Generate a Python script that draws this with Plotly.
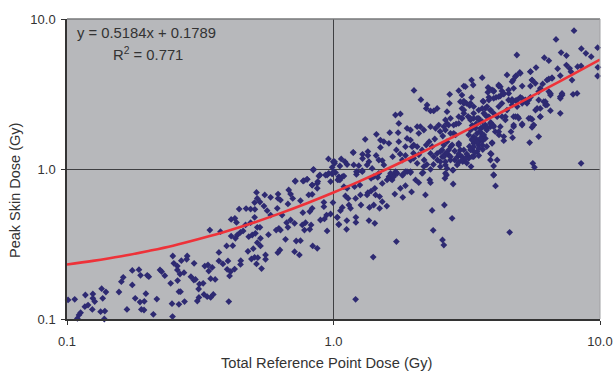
import plotly.graph_objects as go

# (log10 total reference point dose, log10 peak skin dose)
points_low_dose = [
(-.996,-.873),(-.971,-.869),(-.961,-.996),(-.955,-.973),(-.949,-.958),(-.931,-.84),(-.933,-.918),(-.921,-.907),(-.905,-.936),(-.903,-.833),
(-.903,-.862),(-.896,-.884),(-.87,-.798),(-.854,-.82),(-.866,-.862),(-.874,-.951),(-.858,-.947),(-.86,-1.0),(-.805,-.82),(-.796,-.751),
(-.789,-.722),(-.755,-.676),(-.73,-.671),(-.724,-.709),(-.755,-.773),(-.744,-.862),(-.726,-.887),(-.71,-.882),(-.704,-.831),(-.775,-.936),
(-.721,-.936),(-.711,-.94),(-.676,-.969),(-.663,-.867),(-.699,-.709),(-.693,-.718),(-.651,-.673),(-.645,-.684),(-.633,-.711),(-.611,-.762),
(-.603,-.58),(-.599,-.629),(-.586,-.647),(-.586,-.673),(-.571,-.611),(-.549,-.58),(-.551,-.602),(-.523,-.629),(-.576,-.7),(-.561,-.691),
(-.585,-.744),(-.58,-.818),(-.574,-.818),(-.606,-.898),(-.58,-.902),(-.559,-.884),(-.604,-.984),(-.535,-.718),(-.524,-.74),(-.518,-.736),
(-.503,-.767),(-.489,-.762),(-.506,-.8),(-.505,-.856),(-.511,-.88),(-.486,-.836),(-.474,-.851),(-.461,-.856),(-.451,-.836),(-.393,-.884),
(-.483,-.647),(-.471,-.64),(-.455,-.656),(-.468,-.68),(-.461,-.731),(-.444,-.736),(-.39,-.713),(-.43,-.556),(-.43,-.613),(-.415,-.633),
(-.396,-.613),(-.399,-.669),(-.386,-.684),(-.371,-.667),(-.349,-.636),(-.348,-.611),(-.401,-.513),(-.378,-.511),(-.464,-.407),(-.424,-.418),
]
points_mid_low_dose = [
(-.321,-.549),(-.301,-.531),(-.308,-.6),(-.296,-.589),(-.284,-.591),(-.289,-.633),(-.27,-.664),(-.255,-.573),(-.255,-.602),(-.274,-.513),
(-.286,-.491),(-.274,-.462),(-.384,-.447),(-.368,-.462),(-.361,-.44),(-.349,-.422),(-.339,-.413),(-.318,-.451),(-.305,-.44),(-.293,-.429),
(-.244,-.438),(-.209,-.558),(-.201,-.54),(-.146,-.551),(-.128,-.573),(-.14,-.48),(-.124,-.478),(-.18,-.469),(-.205,-.396),(-.215,-.407),
(-.199,-.407),(-.171,-.389),(-.176,-.358),(-.161,-.34),(-.146,-.362),(-.193,-.307),(-.171,-.233),(-.211,-.262),(-.236,-.307),(-.249,-.278),
(-.261,-.247),(-.286,-.389),(-.276,-.389),(-.311,-.358),(-.33,-.373),(-.296,-.322),(-.384,-.336),(-.37,-.329),(-.364,-.356),(-.354,-.267),
(-.328,-.264),(-.311,-.267),(-.295,-.269),(-.296,-.224),(-.289,-.156),(-.286,-.196),(-.276,-.22),(-.258,-.173),(-.236,-.189),(-.208,-.167),
(-.208,-.196),(-.199,-.207),(-.168,-.14),(-.161,-.167),(-.153,-.196),(-.143,-.08),(-.114,-.08),(-.099,-.069),(-.124,-.211),(-.093,-.173),
(-.08,-.169),(-.036,-.222),(-.036,-.251),(-.002,-.224),(-.08,-.262),(-.089,-.284),(-.115,-.291),(-.105,-.358),(-.117,-.373),(-.084,-.373),
(-.109,-.407),(-.089,-.402),(-.024,-.413),(-.049,-.34),(-.034,-.333),(-.026,-.307),(-.011,-.3),(.014,-.322),(.02,-.369),(-.078,-.513),
(-.061,-.529),(-.08,-.107),(-.061,-.096),(-.055,-.047),(-.024,-.04),(-.005,-.033),(.0075,-.024),(-.076,-.007),(.02,-.069),
(-.019,.067),(-.001,.049),(.004,.038),(-.005,.011),(-.018,-.029),(-.005,-.029),(-.03,-.04),(.001,-.018),(.02,-.051),
(-.075,-.002),(-.051,-.04),(-.144,-.082),(-.111,-.078),(-.099,-.069),(-.08,-.107),(-.059,-.084),(-.061,-.129),(-.011,-.084),
]
points_mid_dose = [
(.016,-.073),(.033,-.051),(.024,-.073),(.086,-.018),(.108,-.018),(.086,-.036),(.141,-.062),(.166,-.056),(.183,-.096),(.201,-.073),
(.214,-.062),(.226,-.04),(.233,-.018),(.22,-.073),(.208,-.051),(.239,-.029),(.26,-.04),(.276,-.018),(.289,-.024),(.308,-.073),
(.32,-.091),(.336,-.024),(.361,-.073),(.364,-.091),(.418,-.062),(.424,-.04),(.449,-.007),(.449,-.1),(.601,-.04),(.608,-.113),
(.039,-.118),(.051,-.129),(.079,-.118),(.099,-.107),(.045,-.18),(.055,-.196),(.083,-.196),(.101,-.173),(.126,-.173),(.129,-.158),
(.141,-.147),(.155,-.129),(.158,-.173),(.173,-.184),(.183,-.218),(.2,-.247),(.173,-.262),(.151,-.24),(.135,-.256),(.103,-.24),
(.058,-.24),(.064,-.262),(.033,-.256),(.026,-.278),(.23,-.167),(.251,-.129),(.27,-.111),(.26,-.189),(.293,-.153),(.345,-.173),
(.416,-.24),(.37,-.276),(.445,-.329),(.374,-.409),(.409,-.473),(.414,-.507),(.661,-.422),(.236,-.484),(.149,-.587),(.083,-.869),
(.014,-.322),(.02,-.371),(.05,-.344),(.049,-.402),(.084,-.322),(.084,-.356),(.133,-.344),(.155,-.362),
]
points_high_dose = [
(.9025,.922),(.835,.864),(.991,.809),(.93,.802),(.947,.771),(.967,.749),(.854,.776),(.874,.756),(.688,.76),(.791,.742),
(.808,.722),(.76,.676),(.739,.649),(.841,.669),(.874,.693),(.886,.671),(.916,.682),(.929,.687),(.992,.678),(.991,.62),
(.895,.593),(.891,.649),(.851,.622),(.82,.609),(.808,.6),(.785,.567),(.745,.593),(.739,.553),(.699,.644),(.685,.622),
(.674,.593),(.651,.627),(.708,.553),(.676,.538),(.657,.527),(.558,.609),(.518,.593),(.524,.56),(.489,.553),(.47,.522),
(.436,.498),(.435,.438),(.302,.524),(.328,.462),(.351,.427),(.348,.404),(.364,.387),(.389,.404),(.376,.387),(.482,.493),
(.489,.453),(.499,.438),(.518,.476),(.511,.422),(.58,.544),(.579,.511),(.601,.522),(.62,.553),(.632,.52),(.583,.478),
(.561,.453),(.61,.478),(.626,.487),(.639,.5),(.657,.46),(.67,.464),(.683,.456),(.701,.478),(.72,.46),(.726,.438),
(.739,.478),(.77,.516),(.808,.516),(.814,.493),(.77,.46),(.795,.449),(.801,.427),(.851,.471),(.858,.493),(.899,.498),
(.914,.504),(.851,.371),(.814,.389),(.776,.404),(.758,.393),(.776,.349),(.733,.338),(.745,.331),(.708,.3),(.751,.293),
(.745,.278),(.77,.216),(.736,.176),(.676,.349),(.691,.349),(.645,.349),(.676,.282),(.666,.249),(.672,.209),(.621,.227),
(.639,.189),(.595,.176),(.592,.1),(.614,.06),(.601,.02),(.748,.038),(.754,.011),(.929,.038),(.601,-.04),
(.67,.427),(.689,.416),(.708,.438),(.62,.416),(.632,.438),(.651,.393),
]
points_dense_band = [
(.576,.416),(.589,.393),(.601,.371),(.614,.349),(.576,.349),(.558,.316),(.545,.338),(.526,.338),(.514,.327),(.482,.404),
(.489,.371),(.482,.338),(.47,.349),(.439,.338),(.426,.382),(.42,.327),(.432,.293),(.414,.282),(.395,.293),(.383,.271),
(.364,.282),(.326,.282),(.314,.282),(.339,.26),(.32,.238),(.289,.26),(.276,.271),(.251,.367),(.2325,.36),(.245,.304),
(.211,.242),(.2425,.242),(.161,.231),(.119,.198),(.176,.193),(.189,.182),(.208,.171),(.176,.144),(.245,.182),(.276,.204),
(.289,.193),(.301,.16),(.27,.149),(.295,.149),(.314,.149),(.236,.127),(.074,.111),(.109,.098),(.129,.116),(.029,.067),
(.043,.049),(.004,.049),(.024,.02),(.076,.027),(.095,.022),(.133,.049),(.126,.027),(.089,-.018),(.108,-.011),(.183,.056),
(.189,.027),(.222,.082),(.258,.06),(.289,.06),(.301,.071),(.314,.038),(.34,.06),(.339,.016),(.364,.104),(.376,.082),
(.389,.104),(.401,.116),(.408,.082),(.42,.104),(.432,.093),(.439,.06),(.401,.049),(.42,.027),(.359,.182),(.348,.16),
(.3325,.127),(.426,.182),(.451,.238),(.47,.16),(.489,.127),(.482,.082),(.507,.082),(.526,.082),(.539,.116),(.52,.127),
(.526,.171),(.545,.182),(.526,.216),(.539,.238),(.558,.227),(.57,.204),(.551,.271),(.57,.293),(.589,.282),(.607,.249),
(.514,.26),(.533,.271),(.466,.082),(.464,.027),(.447,-.007),(.516,.016),(.589,.06),(.42,-.029),(.364,-.002),(.3325,-.029),
(.289,-.018),(.27,-.018),(.214,-.029),(.226,-.051),(.258,-.04),(.17,-.029),(.145,.004),(.151,-.051),(.039,-.047),(.401,.016),
(.426,.004),(.545,.393),(.526,.371),(.526,.416),(.564,.371),(.57,.404),
(.074,.109),(.109,.07),(.129,.09),(.051,.03),(.16,.09),(.17,.06),
(.44,.15),(.455,.12),(.47,.1),(.5,.1),(.51,.15),(.52,.2),(.535,.2),(.55,.25),(.56,.28),(.575,.26),
(.59,.31),(.6,.29),(.535,.3),(.52,.29),(.505,.35),(.46,.3),(.4,.25),(.41,.22),(.38,.2),(.37,.15),
(.455,.06),(.47,.045),(.485,.05),(.5,.04),(.53,.11),(.545,.09),(.56,.13),(.575,.15),(.545,.16),(.56,.19),
(.35,.03),(.375,.03),(.39,.06),(.25,.1),(.27,.09),(.3,.105),(.32,.095),
]
points_upper_cloud = [
(.5075,.227),(.52,.193),(.539,.182),(.551,.204),(.564,.227),(.576,.271),(.589,.304),(.601,.282),(.583,.349),(.57,.36),
(.558,.404),(.589,.393),(.551,.316),(.533,.293),(.52,.271),(.514,.338),(.539,.338),(.526,.149),(.514,.127),(.545,.138),
(.558,.16),(.5075,.071),(.52,.082),(.495,.071),(.4825,.06),(.414,.082),(.426,.104),(.439,.082),(.42,.049),(.4075,.127),
(.414,.16),(.4325,.127),(.445,.16),(.476,.127),(.47,.171),(.458,.227),(.439,.238),(.42,.26),(.426,.304),(.451,.293),
(.47,.304),(.482,.338),(.489,.393),(.476,.449),(.489,.438),(.514,.438),(.583,.46),(.601,.471),(.62,.482),(.639,.504),
(.6575,.504),(.67,.449),(.689,.46),(.7075,.471),(.72,.449),(.7325,.46),(.683,.349),(.695,.338),(.7075,.293),(.676,.293),
(.645,.327),(.6325,.349),(.626,.282),(.639,.216),(.62,.249),(.595,.171),(.589,.104),(.739,.338),(.751,.293),(.776,.349),
(.764,.404),(.789,.449),(.795,.427),(.814,.504),(.851,.482),(.8575,.504),(.801,.593),(.82,.604),(.745,.593),(.7575,.571),
(.776,.538),(.626,.549),(.62,.56),(.601,.516),(.583,.538),(.595,.527),(.5625,.449),(.67,.582),(.701,.638),(.6825,.616),
(.739,.649),(.495,.549),
]

trend_x = [.1,.125,.16,.2,.25,.32,.4,.5,.63,.8,1,1.25,1.6,2,2.5,3.2,4,5,6.3,8,10]
trend_y = [.231,.244,.262,.283,.308,.345,.386,.438,.506,.594,.697,.827,1.008,1.216,1.475,1.838,2.252,2.771,3.445,4.326,5.363]

tick_vals = [0.1, 1, 10]
tick_labels = ["0.1", "1.0", "10.0"]
x_title = "Total Reference Point Dose (Gy)"
y_title = "Peak Skin Dose (Gy)"
equation_text = "y = 0.5184x + 0.1789"
r2_text = "R<sup>2</sup> = 0.771"

all_points = points_low_dose + points_mid_low_dose + points_mid_dose + points_high_dose + points_dense_band + points_upper_cloud
xs = [10 ** p[0] for p in all_points]
ys = [10 ** p[1] for p in all_points]

FONT = "Liberation Sans, Arial, sans-serif"
INK = "#333333"
fig = go.Figure()
fig.add_trace(go.Scatter(x=xs, y=ys, mode="markers",
    marker=dict(symbol="diamond", size=5.2, color="#2e2a72", line=dict(width=0)), cliponaxis=False))
fig.add_trace(go.Scatter(x=trend_x, y=trend_y, mode="lines", line=dict(color="#ee3239", width=2.6, shape="spline")))

axis = dict(type="log", range=[-1, 1], automargin=False, tickmode="array", tickvals=tick_vals, ticktext=tick_labels,
    ticks="outside", ticklen=4, tickwidth=1, tickcolor=INK,
    showgrid=True, gridcolor="#3f3f42", gridwidth=1, zeroline=False,
    showline=True, linecolor=INK, linewidth=1.5,
    tickfont=dict(size=13, color=INK, family=FONT))
fig.update_xaxes(ticklabelstandoff=6, **axis)
fig.update_yaxes(ticklabelstandoff=3, **axis)

def note(text, x, y, size, anchor="left", angle=0):
    return dict(text=text, xref="paper", yref="paper", x=x, y=y, xanchor=anchor, yanchor="middle",
                textangle=angle, showarrow=False, font=dict(size=size, color=INK, family=FONT))

fig.update_layout(width=615, height=371, autosize=False, showlegend=False,
    margin=dict(l=67, r=15, t=19, b=52, pad=0),
    plot_bgcolor="#b7b8bb", paper_bgcolor="#ffffff",
    annotations=[
        note(equation_text, 0.0155, 0.953, 14.8),
        note(r2_text, 0.083, 0.883, 14.8),
        note(x_title, 0.486, -0.1467, 14.7, "center"),
        note(y_title, -0.0976, 0.43, 14.5, "center", -90),
    ],
    shapes=[
        dict(type="line", xref="paper", yref="paper", x0=0, x1=1, y0=1, y1=1, line=dict(color="#77787a", width=1.5)),
        dict(type="line", xref="paper", yref="paper", x0=1, x1=1, y0=0, y1=1, line=dict(color="#a0a1a3", width=1)),
    ])

fig.write_html("out.html", config={"displayModeBar": False},
    post_script="document.body.style.margin='0';window.dispatchEvent(new Event('resize'));")
